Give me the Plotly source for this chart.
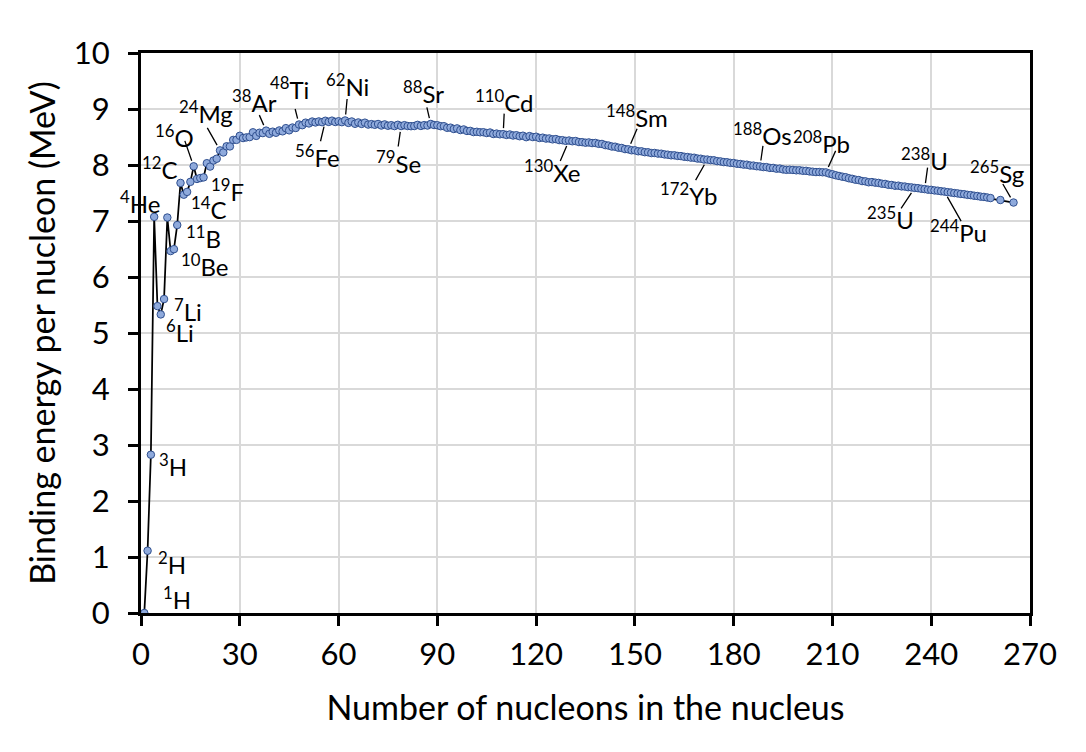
import plotly.graph_objects as go

# mass number A and binding energy per nucleon (MeV)
mass_number = list(range(1, 259)) + [261, 265]
binding_energy = [
    0.000, 1.112, 2.827, 7.074, 5.480, 5.332, 5.606, 7.062, 6.463, 6.497,
    6.928, 7.680, 7.470, 7.520, 7.699, 7.976, 7.751, 7.767, 7.779, 8.032,
    7.972, 8.080, 8.112, 8.261, 8.224, 8.334, 8.332, 8.448, 8.449, 8.521,
    8.481, 8.493, 8.498, 8.584, 8.520, 8.576, 8.570, 8.614, 8.557, 8.595,
    8.576, 8.617, 8.601, 8.658, 8.619, 8.669, 8.661, 8.723, 8.711, 8.756,
    8.742, 8.776, 8.760, 8.778, 8.765, 8.790, 8.770, 8.792, 8.768, 8.781,
    8.765, 8.795, 8.752, 8.777, 8.736, 8.760, 8.734, 8.756, 8.722, 8.730,
    8.718, 8.732, 8.705, 8.725, 8.701, 8.711, 8.695, 8.718, 8.696, 8.711,
    8.696, 8.693, 8.696, 8.717, 8.698, 8.712, 8.705, 8.733, 8.714, 8.710,
    8.693, 8.693, 8.664, 8.667, 8.643, 8.654, 8.624, 8.635, 8.608, 8.609,
    8.588, 8.593, 8.584, 8.585, 8.571, 8.580, 8.554, 8.561, 8.548, 8.551,
    8.537, 8.545, 8.527, 8.532, 8.514, 8.523, 8.497, 8.516, 8.499, 8.505,
    8.482, 8.488, 8.472, 8.474, 8.458, 8.463, 8.445, 8.443, 8.431, 8.437,
    8.424, 8.428, 8.410, 8.408, 8.398, 8.403, 8.392, 8.394, 8.378, 8.376,
    8.355, 8.347, 8.330, 8.327, 8.309, 8.304, 8.284, 8.280, 8.263, 8.262,
    8.245, 8.244, 8.229, 8.227, 8.213, 8.215, 8.204, 8.202, 8.189, 8.184,
    8.173, 8.173, 8.162, 8.159, 8.147, 8.142, 8.132, 8.130, 8.115, 8.112,
    8.098, 8.097, 8.087, 8.084, 8.069, 8.064, 8.052, 8.049, 8.038, 8.035,
    8.023, 8.018, 8.007, 8.006, 7.991, 7.989, 7.978, 7.974, 7.963, 7.962,
    7.948, 7.948, 7.934, 7.936, 7.921, 7.914, 7.916, 7.912, 7.905, 7.906,
    7.897, 7.896, 7.886, 7.880, 7.874, 7.875, 7.870, 7.868, 7.848, 7.834,
    7.817, 7.804, 7.791, 7.782, 7.763, 7.753, 7.737, 7.731, 7.713, 7.708,
    7.692, 7.695, 7.685, 7.680, 7.666, 7.662, 7.646, 7.643, 7.630, 7.631,
    7.618, 7.615, 7.604, 7.600, 7.591, 7.586, 7.576, 7.570, 7.560, 7.556,
    7.546, 7.541, 7.531, 7.525, 7.515, 7.509, 7.499, 7.493, 7.483, 7.478,
    7.467, 7.462, 7.452, 7.446, 7.435, 7.430, 7.420, 7.410, 7.375, 7.330,
]

x_ticks = [0, 30, 60, 90, 120, 150, 180, 210, 240, 270]
y_ticks = [0, 1, 2, 3, 4, 5, 6, 7, 8, 9, 10]

# labels without leader line: (A, mass, symbol, xanchor, xshift, yshift)
plain_labels = [
    (1, "1", "H", "left", 17, 15),
    (2, "2", "H", "left", 8, -12),
    (3, "3", "H", "left", 6, -10),
    (4, "4", "He", "right", 8, 15),
    (6, "6", "Li", "left", 3, -17),
    (7, "7", "Li", "left", 8, -11),
    (10, "10", "Be", "left", 5, -16),
    (11, "11", "B", "left", 7, -12),
    (12, "12", "C", "right", -1, 15),
    (14, "14", "C", "left", 2, -16),
    (19, "19", "F", "left", 5, -13),
]

# labels with leader line: (A, mass, symbol, text dx, text dy, line end dx, line end dy)
line_labels = [
    (16, "16", "O", -19, -30, -9, -26),
    (24, "24", "Mg", -14, -38, -13, -23),
    (38, "38", "Ar", -12, -30, -7, -16),
    (48, "48", "Ti", -10, -37, -4, -16),
    (56, "56", "Fe", -8, 35, -5, 21),
    (62, "62", "Ni", 2, -35, 2, -22),
    (79, "79", "Se", -3, 36, -3, 21),
    (88, "88", "Sr", -7, -32, -4, -17),
    (110, "110", "Cd", 1, -33, 1, -21),
    (130, "130", "Xe", -17, 30, -9, 21),
    (148, "148", "Sm", 9, -33, 9, -21),
    (172, "172", "Yb", -18, 34, -12, 21),
    (188, "188", "Os", 2, -32, 3, -21),
    (208, "208", "Pb", -4, -30, 10, -22),
    (238, "238", "U", 0, -30, 3, -22),
    (235, "235", "U", -24, 30, -14, 21),
    (244, "244", "Pu", 14, 39, 17, 30),
    (265, "265", "Sg", -17, -31, -11, -19),
]

be = dict(zip(mass_number, binding_energy))
font = "Lato, Open Sans, sans-serif"
label_font = dict(size=24, color="black", family=font)

fig = go.Figure(
    go.Scatter(
        x=mass_number,
        y=binding_energy,
        mode="lines+markers",
        line=dict(color="black", width=1.75),
        marker=dict(size=7.5, color="#8FAADC", line=dict(color="#2F4F8F", width=1)),
        showlegend=False,
    )
)

for a, m, sym, anchor, dx, dy in plain_labels:
    fig.add_annotation(
        x=a, y=be[a], text=f"<sup>{m}</sup>{sym}", showarrow=False,
        xanchor=anchor, yanchor="middle", xshift=dx, yshift=dy,
        font=label_font,
    )

for a, m, sym, tx, ty, lx, ly in line_labels:
    # leader line
    fig.add_annotation(
        x=a, y=be[a], text="", showarrow=True, arrowhead=0, arrowwidth=1.3,
        arrowcolor="black", ax=lx, ay=ly, standoff=6, borderpad=0,
        font=dict(size=1),
    )
    fig.add_annotation(
        x=a, y=be[a], text=f"<sup>{m}</sup>{sym}", showarrow=False,
        xanchor="center", yanchor="middle", xshift=tx, yshift=-ty,
        font=label_font,
    )

# the page body adds 8px around the figure
fig.update_layout(
    width=1070,
    height=736,
    margin=dict(l=133, r=48, t=45, b=131),
    plot_bgcolor="white",
    paper_bgcolor="white",
    font=dict(family=font, size=28, color="black"),
)
fig.update_xaxes(
    range=[0, 270], tickvals=x_ticks, showline=True, linecolor="black",
    linewidth=3, mirror=True, ticks="outside", ticklen=10, tickwidth=3,
    tickcolor="black", showgrid=True, gridcolor="#D9D9D9", gridwidth=1.5,
    zeroline=False, ticklabelstandoff=2, tickfont=dict(size=31),
    title=dict(text="Number of nucleons in the nucleus", standoff=25),
)
fig.update_yaxes(
    range=[0, 10], tickvals=y_ticks, showline=True, linecolor="black",
    linewidth=3, mirror=True, ticks="outside", ticklen=10, tickwidth=3,
    tickcolor="black", showgrid=True, gridcolor="#D9D9D9", gridwidth=1.5,
    zeroline=False, ticklabelstandoff=12, tickfont=dict(size=31),
    title=dict(text="Binding energy per nucleon (MeV)", standoff=8),
)

fig.write_html("out.html")
